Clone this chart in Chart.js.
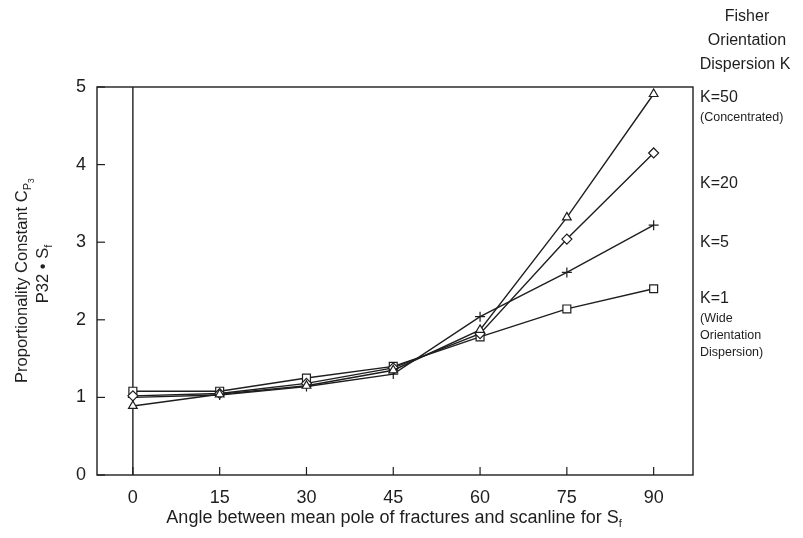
<!DOCTYPE html>
<html>
<head>
<meta charset="utf-8">
<script src="https://cdn.jsdelivr.net/npm/chart.js@4/dist/chart.umd.min.js"></script>
<style>
  html, body { margin: 0; padding: 0; background: #fff; }
  #wrap { width: 803px; height: 538px; position: relative; }
</style>
</head>
<body>
<div id="wrap"><canvas id="c" width="803" height="538"></canvas></div>
<script>
// Angle between mean pole of fractures and scanline (degrees)
const angles = [0, 15, 30, 45, 60, 75, 90];
const xTicks = [0, 15, 30, 45, 60, 75, 90];
const yTicks = [0, 1, 2, 3, 4, 5];

// Proportionality constant for each Fisher dispersion value
const k50 = [0.89, 1.04, 1.15, 1.35, 1.87, 3.32, 4.91];
const k20 = [1.02, 1.05, 1.18, 1.38, 1.82, 3.04, 4.15];
const k5  = [1.00, 1.03, 1.14, 1.30, 2.04, 2.61, 3.22];
const k1  = [1.08, 1.08, 1.25, 1.40, 1.78, 2.14, 2.40];

const seriesNames = ['K=50', 'K=20', 'K=5', 'K=1'];

const FONT = '"Liberation Sans", Arial, Helvetica, sans-serif';
const INK = '#1e1e1e';

function pts(vals) { return angles.map((a, i) => ({ x: a, y: vals[i] })); }

function ds(label, vals, style, radius) {
  return {
    label, data: pts(vals),
    borderColor: INK, borderWidth: 1.4,
    pointStyle: style, pointRadius: radius, pointHoverRadius: radius,
    pointBorderColor: INK, pointBackgroundColor: '#fff', pointBorderWidth: 1.2,
    tension: 0, fill: false
  };
}

// Frame, inward tick marks, zero line and free text around the plot
const decor = {
  id: 'decor',
  beforeDatasetsDraw(chart) {
    const { ctx, chartArea: a, scales } = chart;
    ctx.save();
    ctx.strokeStyle = INK;
    ctx.lineWidth = 1.4;
    ctx.strokeRect(a.left, a.top, a.right - a.left, a.bottom - a.top);
    // zero angle line
    const x0 = scales.x.getPixelForValue(0);
    ctx.beginPath(); ctx.moveTo(x0, a.top); ctx.lineTo(x0, a.bottom); ctx.stroke();
    ctx.lineWidth = 1.2;
    xTicks.forEach(v => {
      const x = scales.x.getPixelForValue(v);
      ctx.beginPath(); ctx.moveTo(x, a.bottom); ctx.lineTo(x, a.bottom - 8); ctx.stroke();
    });
    yTicks.forEach(v => {
      const y = scales.y.getPixelForValue(v);
      ctx.beginPath(); ctx.moveTo(a.left, y); ctx.lineTo(a.left + 8, y); ctx.stroke();
    });
    ctx.restore();
  },
  afterDraw(chart) {
    const { ctx } = chart;
    ctx.save();
    ctx.fillStyle = INK;
    ctx.textBaseline = 'middle';

    // right-hand key
    ctx.textAlign = 'center';
    ctx.font = '16px ' + FONT;
    ctx.fillText('Fisher', 747, 17);
    ctx.fillText('Orientation', 747, 41);
    ctx.fillText('Dispersion K', 745, 65);

    ctx.textAlign = 'left';
    ctx.font = '16px ' + FONT;
    ctx.fillText(seriesNames[0], 700, 98);
    ctx.fillText(seriesNames[1], 700, 184);
    ctx.fillText(seriesNames[2], 700, 243);
    ctx.fillText(seriesNames[3], 700, 299);
    ctx.font = '12.5px ' + FONT;
    ctx.fillText('(Concentrated)', 700, 118);
    ctx.fillText('(Wide', 700, 319);
    ctx.fillText('Orientation', 700, 336);
    ctx.fillText('Dispersion)', 700, 353);

    // x-axis title with subscript
    ctx.font = '18px ' + FONT;
    const xt = 'Angle between mean pole of fractures and scanline for S';
    const w = ctx.measureText(xt).width;
    const sx = 395 - (w + 5) / 2;
    ctx.fillText(xt, sx, 518);
    ctx.font = '11px ' + FONT;
    ctx.fillText('f', sx + w, 524);

    // y-axis title (two rotated lines)
    ctx.translate(22, 280);
    ctx.rotate(-Math.PI / 2);
    ctx.font = '16.5px ' + FONT;
    const l1 = 'Proportionality Constant C';
    const w1 = ctx.measureText(l1).width;
    ctx.font = '11px ' + FONT;
    const wp = ctx.measureText('P').width;
    const tot = w1 + wp + 6;
    let px = -tot / 2;
    ctx.font = '16.5px ' + FONT;
    ctx.fillText(l1, px, 0);
    ctx.font = '11px ' + FONT;
    ctx.fillText('P', px + w1, 6);
    ctx.font = '8.5px ' + FONT;
    ctx.fillText('3', px + w1 + wp, 10);

    ctx.font = '16.5px ' + FONT;
    const l2 = 'P32 \u2022 S';
    const w2 = ctx.measureText(l2).width;
    px = -(w2 + 5) / 2 + 7;
    ctx.fillText(l2, px, 21);
    ctx.font = '11px ' + FONT;
    ctx.fillText('f', px + w2, 27);
    ctx.restore();
  }
};

new Chart(document.getElementById('c'), {
  type: 'line',
  data: {
    datasets: [
      ds(seriesNames[0], k50, 'triangle', 5),
      ds(seriesNames[1], k20, 'rectRot', 5),
      ds(seriesNames[2], k5, 'cross', 5),
      ds(seriesNames[3], k1, 'rect', 5.6)
    ]
  },
  options: {
    responsive: false,
    animation: false,
    devicePixelRatio: 1,
    layout: { padding: { left: 0, top: 87, right: 110, bottom: 0 } },
    plugins: { legend: { display: false }, tooltip: { enabled: false } },
    scales: {
      x: {
        type: 'linear', min: -6.2, max: 96.8,
        afterBuildTicks(s) { s.ticks = xTicks.map(v => ({ value: v })); },
        afterFit(s) { s.height = 63; },
        grid: { display: false, drawTicks: false },
        border: { display: false },
        ticks: { color: INK, padding: 12, font: { family: FONT, size: 18 }, maxRotation: 0 }
      },
      y: {
        type: 'linear', min: 0, max: 5,
        afterBuildTicks(s) { s.ticks = yTicks.map(v => ({ value: v })); },
        afterFit(s) { s.width = 97; },
        grid: { display: false, drawTicks: false },
        border: { display: false },
        ticks: { color: INK, padding: 11, font: { family: FONT, size: 18 } }
      }
    }
  },
  plugins: [decor]
});
</script>
</body>
</html>
